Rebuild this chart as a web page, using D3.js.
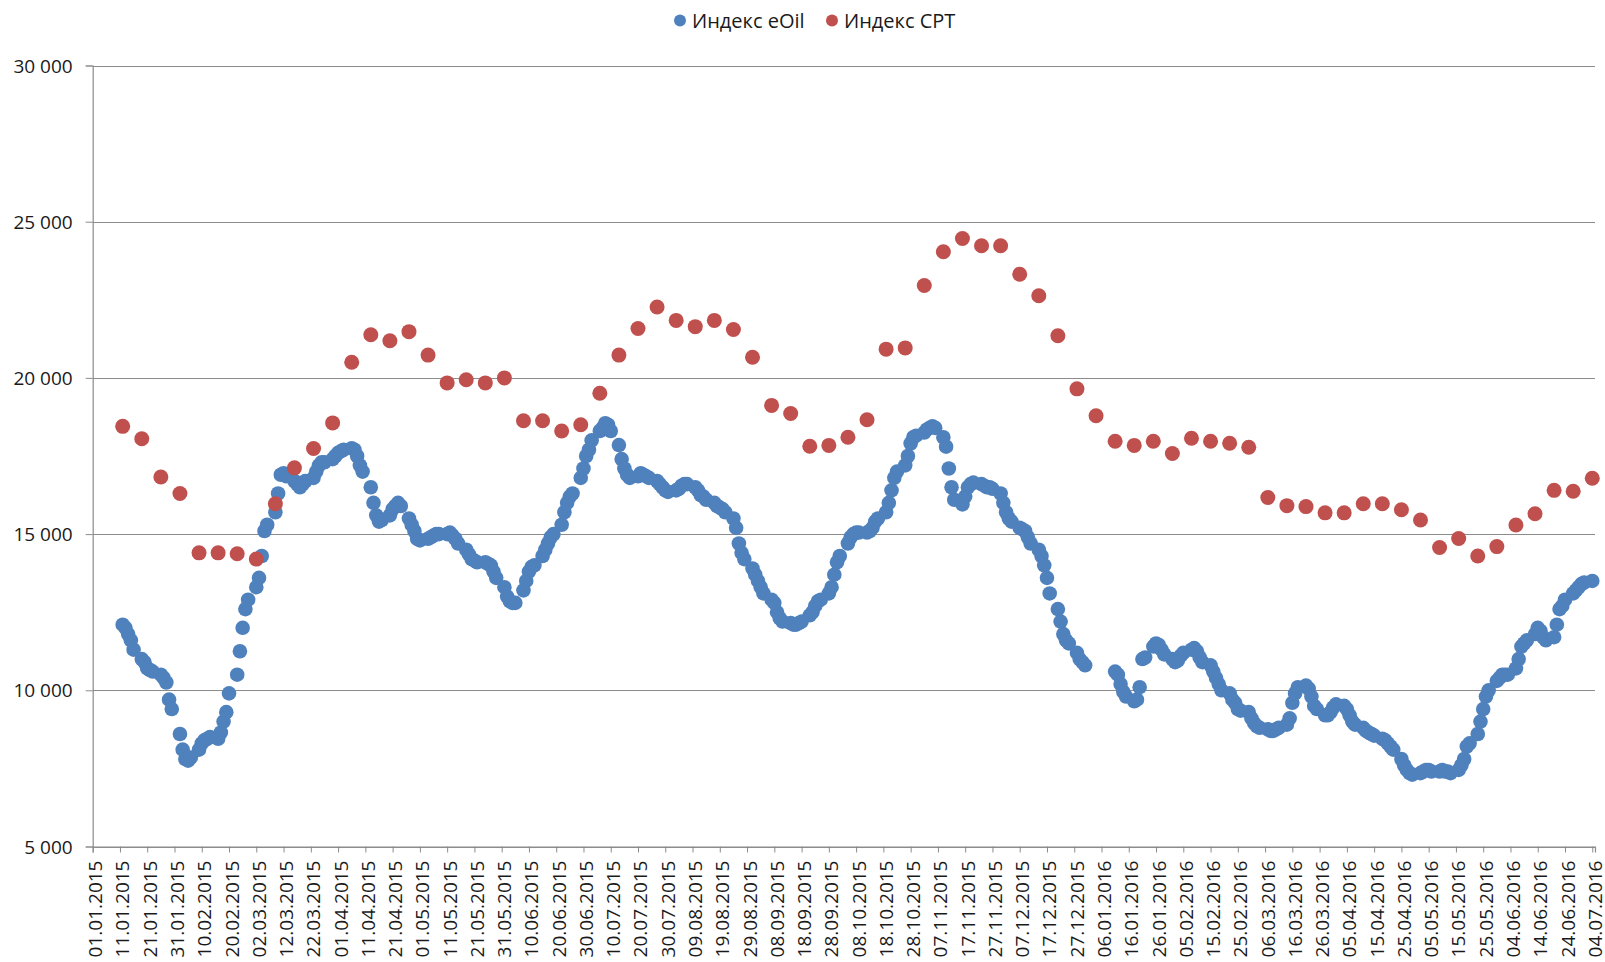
<!DOCTYPE html>
<html>
<head>
<meta charset="utf-8">
<script src="https://cdn.jsdelivr.net/npm/d3@7"></script>
<style>
  body { margin: 0; background: #fff; }
  text { font-family: "Open Sans", "Noto Sans", sans-serif; fill: #1a1a1a; }
</style>
</head>
<body>
<div id="chart"></div>
<script>
// series names
var seriesNames = ["Индекс eOil", "Индекс CPT"]

// Mondays, one per week (CPT is weekly on Mondays, eOil rows start on these days)
var weeks = [
  "12.01.2015","19.01.2015","26.01.2015","02.02.2015","09.02.2015","16.02.2015","23.02.2015",
  "02.03.2015","09.03.2015","16.03.2015","23.03.2015","30.03.2015","06.04.2015","13.04.2015",
  "20.04.2015","27.04.2015","04.05.2015","11.05.2015","18.05.2015","25.05.2015","01.06.2015",
  "08.06.2015","15.06.2015","22.06.2015","29.06.2015","06.07.2015","13.07.2015","20.07.2015",
  "27.07.2015","03.08.2015","10.08.2015","17.08.2015","24.08.2015","31.08.2015","07.09.2015",
  "14.09.2015","21.09.2015","28.09.2015","05.10.2015","12.10.2015","19.10.2015","26.10.2015",
  "02.11.2015","09.11.2015","16.11.2015","23.11.2015","30.11.2015","07.12.2015","14.12.2015",
  "21.12.2015","28.12.2015","04.01.2016","11.01.2016","18.01.2016","25.01.2016","01.02.2016",
  "08.02.2016","15.02.2016","22.02.2016","29.02.2016","07.03.2016","14.03.2016","21.03.2016",
  "28.03.2016","04.04.2016","11.04.2016","18.04.2016","25.04.2016","02.05.2016","09.05.2016",
  "16.05.2016","23.05.2016","30.05.2016","06.06.2016","13.06.2016","20.06.2016","27.06.2016",
  "04.07.2016"
]

// Индекс CPT, one value per week
var cptValues = [
  18450, 18050, 16830, 16300, 14400, 14400, 14370, 14200, 15970, 17120,
  17740, 18560, 20500, 21380, 21190, 21480, 20730, 19840, 19940, 19840,
  20000, 18630, 18630, 18300, 18500, 19510, 20730, 21580, 22270, 21840,
  21640, 21840, 21550, 20660, 19120, 18860, 17810, 17840, 18100, 18660,
  20920, 20960, 22960, 24040, 24460, 24230, 24230, 23320, 22630, 21350,
  19650, 18790, 17970, 17840, 17970, 17580, 18070, 17970, 17910, 17780,
  16170, 15910, 15880, 15680, 15680, 15970, 15970, 15780, 15450, 14570,
  14860, 14300, 14600, 15290, 15650, 16400, 16370, 16790
]

// Индекс eOil, working days Mon..Fri of each week above (null = no quote)
var eoilValues = [
  [12100, 12000, 11800, 11600, 11300],
  [11000, 10900, 10700, 10650, 10600],
  [10500, 10400, 10250, 9700, 9400],
  [8600, 8100, 7800, 7750, 7850],
  [8100, 8300, 8400, 8450, 8500],
  [8450, 8650, 9000, 9300, 9900],
  [10500, 11250, 12000, 12600, 12900],
  [13300, 13600, 14300, 15100, 15300],
  [15700, 16300, 16900, 16950, 16850],
  [16700, 16600, 16500, 16600, 16700],
  [16800, 17000, 17200, 17300, 17300],
  [17400, 17500, 17600, 17650, 17700],
  [17750, 17700, 17500, 17200, 17000],
  [16500, 16000, 15600, 15400, 15450],
  [15600, 15800, 15900, 16000, 15900],
  [15500, 15300, 15100, 14850, 14800],
  [14850, 14900, 14950, 15000, 15000],
  [15000, 15050, 14950, 14850, 14700],
  [14500, 14350, 14200, 14150, 14100],
  [14100, 14050, 14000, 13800, 13600],
  [13300, 13000, 12850, 12800, 12800],
  [13200, 13500, 13800, 13950, 14000],
  [14300, 14500, 14700, 14900, 15000],
  [15300, 15700, 16000, 16200, 16300],
  [16800, 17100, 17500, 17700, 18000],
  [18300, 18400, 18550, 18500, 18300],
  [17850, 17400, 17100, 16900, 16800],
  [16850, 16950, 16900, 16850, 16800],
  [16700, 16600, 16500, 16400, 16350],
  [16400, 16450, 16550, 16600, 16600],
  [16500, 16400, 16250, 16200, 16100],
  [16000, 15900, 15850, 15800, 15700],
  [15500, 15200, 14700, 14400, 14200],
  [13900, 13700, 13500, 13300, 13100],
  [12900, 12800, 12500, 12300, 12200],
  [12150, 12100, 12100, 12150, 12200],
  [12400, 12500, 12700, 12850, 12900],
  [13100, 13300, 13700, 14100, 14300],
  [14700, 14900, 15000, 15050, 15050],
  [15050, 15100, 15200, 15400, 15500],
  [15700, 16000, 16400, 16800, 17000],
  [17200, 17500, 17900, 18100, 18150],
  [18250, 18350, 18400, 18450, 18400],
  [18100, 17800, 17100, 16500, 16100],
  [15950, 16200, 16500, 16600, 16650],
  [16600, 16550, 16500, 16500, 16450],
  [16300, 16000, 15700, 15500, 15400],
  [15200, 15150, 15100, 14900, 14700],
  [14500, 14300, 14000, 13600, 13100],
  [12600, 12200, 11800, 11600, 11500],
  [11200, 11000, 10900, 10800, null],
  [null, null, null, null, null],
  [10600, 10500, 10200, 9950, 9800],
  [9650, 9700, 10100, 11000, 11050],
  [11400, 11500, 11450, 11300, 11150],
  [11000, 10900, 10950, 11100, 11200],
  [11300, 11350, 11250, 11050, 10900],
  [10800, 10600, 10400, 10200, 10000],
  [9900, 9700, 9600, 9400, 9350],
  [9300, 9100, 8950, 8850, 8800],
  [8750, 8700, 8700, 8750, 8800],
  [8900, 9100, 9600, 9900, 10100],
  [10150, 10050, 9800, 9500, 9400],
  [9200, 9200, 9300, 9450, 9550],
  [9500, 9400, 9200, 9000, 8900],
  [8800, 8700, 8650, 8600, 8550],
  [8450, 8400, 8300, 8200, 8100],
  [7800, 7600, 7450, 7350, 7300],
  [7350, 7400, 7450, 7450, 7400],
  [7400, 7450, 7400, 7400, 7350],
  [7450, 7600, 7800, 8200, 8300],
  [8600, 9000, 9400, 9800, 10000],
  [10300, 10400, 10500, 10500, 10500],
  [10700, 11000, 11400, 11500, 11600],
  [11800, 12000, 11900, 11700, 11600],
  [11700, 12100, 12600, 12700, 12900],
  [13100, 13200, 13300, 13400, 13450],
  [13500]
]

// x axis tick labels (every 10 days)
var xTickLabels = [
  "01.01.2015","11.01.2015","21.01.2015","31.01.2015","10.02.2015","20.02.2015","02.03.2015",
  "12.03.2015","22.03.2015","01.04.2015","11.04.2015","21.04.2015","01.05.2015","11.05.2015",
  "21.05.2015","31.05.2015","10.06.2015","20.06.2015","30.06.2015","10.07.2015","20.07.2015",
  "30.07.2015","09.08.2015","19.08.2015","29.08.2015","08.09.2015","18.09.2015","28.09.2015",
  "08.10.2015","18.10.2015","28.10.2015","07.11.2015","17.11.2015","27.11.2015","07.12.2015",
  "17.12.2015","27.12.2015","06.01.2016","16.01.2016","26.01.2016","05.02.2016","15.02.2016",
  "25.02.2016","06.03.2016","16.03.2016","26.03.2016","05.04.2016","15.04.2016","25.04.2016",
  "05.05.2016","15.05.2016","25.05.2016","04.06.2016","14.06.2016","24.06.2016","04.07.2016"
]

var yTicks = [5000, 10000, 15000, 20000, 25000, 30000]

var colors = ["#4f81bd", "#c0504d"]

var width = 1605, height = 962
var plot = { left: 92.7, right: 1595, top: 65.5, bottom: 846.5 }

var parseDate = d3.timeParse("%d.%m.%Y")
var ru = d3.formatLocale({ decimal: ",", thousands: " ", grouping: [3], currency: ["", ""] })
var fmt = ru.format(",")

var svg = d3.select("#chart").append("svg")
    .attr("width", width)
    .attr("height", height)

svg.append("rect").attr("width", width).attr("height", height).attr("fill", "#fff")

var xPositionScale = d3.scaleTime()
  .domain([parseDate("01.01.2015"), parseDate("05.07.2016")])
  .range([plot.left, plot.right])

var yPositionScale = d3.scaleLinear()
  .domain([5000, 30000])
  .range([plot.bottom, plot.top])

// flatten data
var cptData = weeks.map(function(w, i) {
  return { date: parseDate(w), value: cptValues[i] }
})

var eoilData = []
eoilValues.forEach(function(row, i) {
  var monday = parseDate(weeks[i])
  row.forEach(function(v, j) {
    if (v !== null) eoilData.push({ date: d3.timeDay.offset(monday, j), value: v })
  })
})

// gridlines
svg.append("g").selectAll("line")
  .data(yTicks)
  .enter().append("line")
  .attr("x1", plot.left)
  .attr("x2", plot.right)
  .attr("y1", function(d) { return Math.round(yPositionScale(d)) + 0.5 })
  .attr("y2", function(d) { return Math.round(yPositionScale(d)) + 0.5 })
  .attr("stroke", "#8c8c8c")
  .attr("stroke-width", 1.2)

// y axis
var yAxis = d3.axisLeft(yPositionScale)
  .tickValues(yTicks)
  .tickSize(7)
  .tickPadding(13)
  .tickFormat(fmt)
var yG = svg.append("g").attr("class", "axis y-axis")
  .attr("transform", "translate(" + plot.left + ",0)")
  .call(yAxis)
yG.select(".domain").attr("stroke", "#8c8c8c").attr("stroke-width", 1.2)
yG.selectAll(".tick line").attr("stroke", "#8c8c8c")
yG.selectAll("text").style("font-size", "19px").attr("dy", "0.35em")

// x axis
var xTickDates = xTickLabels.map(parseDate)
var xAxis = d3.axisBottom(xPositionScale)
  .tickValues(xTickDates)
  .tickSize(6)
  .tickFormat(d3.timeFormat("%d.%m.%Y"))
var xG = svg.append("g").attr("class", "axis x-axis")
  .attr("transform", "translate(0," + plot.bottom + ")")
  .call(xAxis)
xG.select(".domain").attr("stroke", "#8c8c8c").attr("stroke-width", 1.2)
xG.selectAll(".tick line").attr("stroke", "#8c8c8c")
xG.selectAll("text")
  .style("font-size", "19px")
  .attr("text-anchor", "end")
  .attr("dy", null)
  .attr("y", 0)
  .attr("dominant-baseline", "central")
  .attr("transform", "translate(2,14) rotate(-90)")

// points
svg.append("g").selectAll("circle")
  .data(eoilData)
  .enter().append("circle")
  .attr("r", 7.3)
  .attr("cx", function(d) { return xPositionScale(d.date) })
  .attr("cy", function(d) { return yPositionScale(d.value) })
  .attr("fill", colors[0])

svg.append("g").selectAll("circle")
  .data(cptData)
  .enter().append("circle")
  .attr("r", 7.5)
  .attr("cx", function(d) { return xPositionScale(d.date) })
  .attr("cy", function(d) { return yPositionScale(d.value) })
  .attr("fill", colors[1])

// legend
var legendX = [680, 832]
var legend = svg.append("g").selectAll("g")
  .data(seriesNames)
  .enter().append("g")
  .attr("transform", function(d, i) { return "translate(" + legendX[i] + ",20.5)" })
legend.append("circle").attr("r", 6).attr("fill", function(d, i) { return colors[i] })
legend.append("text")
  .attr("x", 12)
  .attr("dy", "0.35em")
  .style("font-size", "20px")
  .text(function(d) { return d })
</script>
</body>
</html>
